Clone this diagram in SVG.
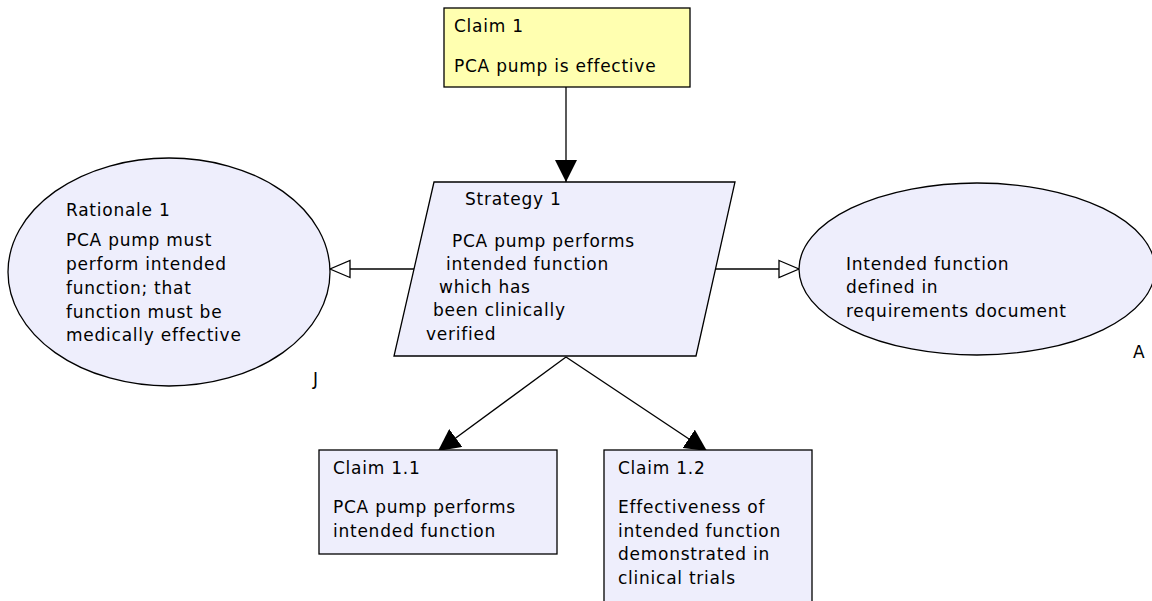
<svg xmlns="http://www.w3.org/2000/svg" width="1152" height="601" viewBox="0 0 1152 601">
  <defs>
    <style>
      .node { stroke: #000; stroke-width: 1.3; }
      .claim { fill: #eeeefc; }
      .top { fill: #ffffb0; }
      .t { font-family: "DejaVu Sans", "Liberation Sans", sans-serif; font-size: 17px; fill: #000; letter-spacing: 0.75px; }
      .edge { stroke: #000; stroke-width: 1.3; fill: none; }
    </style>
    <marker id="solid" viewBox="0 0 22 22" refX="22" refY="11" markerWidth="22" markerHeight="22" markerUnits="userSpaceOnUse" orient="auto">
      <path d="M0,0 L22,11 L0,22 Z" fill="#000"/>
    </marker>
    <marker id="hollow" viewBox="0 0 22 20" refX="21" refY="10" markerWidth="22" markerHeight="20" markerUnits="userSpaceOnUse" orient="auto">
      <path d="M1,1.5 L21,10 L1,18.5 Z" fill="#fff" stroke="#000" stroke-width="1.3"/>
    </marker>
  </defs>
  <rect width="1152" height="601" fill="#fff"/>

  <g id="connectors">
    <line class="edge" x1="422" y1="269" x2="330" y2="269" marker-end="url(#hollow)"/>
    <line class="edge" x1="706" y1="269" x2="799" y2="269" marker-end="url(#hollow)"/>
    <line class="edge" x1="566" y1="87" x2="566" y2="182" marker-end="url(#solid)"/>
    <line class="edge" x1="566" y1="357" x2="438" y2="451" marker-end="url(#solid)"/>
    <line class="edge" x1="566" y1="357" x2="707" y2="451" marker-end="url(#solid)"/>
  </g>

  <g id="claim1">
    <rect class="node top" x="444" y="8" width="246" height="79"/>
    <text class="t" x="454" y="32">Claim 1</text>
    <text class="t" x="454" y="72">PCA pump is effective</text>
  </g>

  <g id="strategy1">
    <polygon class="node claim" points="434,182 735,182 696,356 394,356"/>
    <text class="t" x="465" y="205">Strategy 1</text>
    <text class="t" x="452" y="247">PCA pump performs</text>
    <text class="t" x="446" y="270">intended function</text>
    <text class="t" x="439" y="293">which has</text>
    <text class="t" x="433" y="316">been clinically</text>
    <text class="t" x="426" y="340">verified</text>
  </g>

  <g id="rationale1">
    <ellipse class="node claim" cx="169" cy="272" rx="161" ry="114"/>
    <text class="t" x="66" y="216">Rationale 1</text>
    <text class="t" x="66" y="246">PCA pump must</text>
    <text class="t" x="66" y="270">perform intended</text>
    <text class="t" x="66" y="294">function; that</text>
    <text class="t" x="66" y="318">function must be</text>
    <text class="t" x="66" y="341">medically effective</text>
    <text class="t" x="313" y="385">J</text>
  </g>

  <g id="assumption1">
    <ellipse class="node claim" cx="977" cy="269" rx="178" ry="86"/>
    <text class="t" x="846" y="270">Intended function</text>
    <text class="t" x="846" y="293">defined in</text>
    <text class="t" x="846" y="317">requirements document</text>
    <text class="t" x="1133" y="358">A</text>
  </g>

  <g id="claim1_1">
    <rect class="node claim" x="319" y="450" width="238" height="104"/>
    <text class="t" x="333" y="474">Claim 1.1</text>
    <text class="t" x="333" y="513">PCA pump performs</text>
    <text class="t" x="333" y="537">intended function</text>
  </g>

  <g id="claim1_2">
    <rect class="node claim" x="604" y="450" width="208" height="160"/>
    <text class="t" x="618" y="474">Claim 1.2</text>
    <text class="t" x="618" y="513">Effectiveness of</text>
    <text class="t" x="618" y="537">intended function</text>
    <text class="t" x="618" y="560">demonstrated in</text>
    <text class="t" x="618" y="584">clinical trials</text>
  </g>
</svg>
